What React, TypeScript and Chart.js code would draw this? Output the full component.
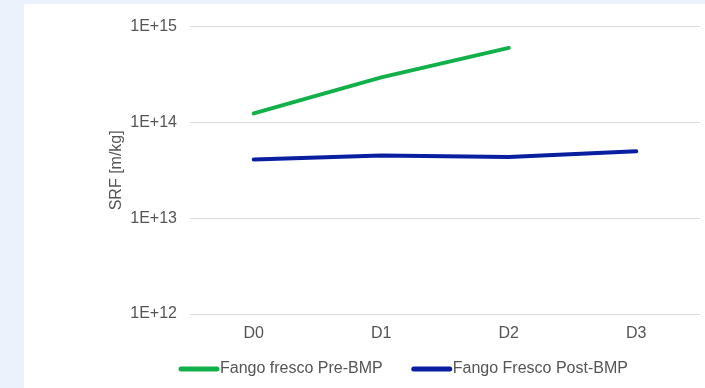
import React, { useEffect, useRef } from "react";
import { Chart, registerables } from "chart.js";

Chart.register(...registerables);

const categories = ["D0", "D1", "D2", "D3"];
const preBmpLabel = "Fango fresco Pre-BMP";
const postBmpLabel = "Fango Fresco Post-BMP";
const preBmp: (number | null)[] = [1.24e14, 2.95e14, 6.0e14, null];
const postBmp = [4.1e13, 4.5e13, 4.35e13, 5.0e13];
const yTicks = [1e12, 1e13, 1e14, 1e15];
const yTitle = "SRF [m/kg]";

const GREEN = "#12b04a";
const BLUE = "#0a1f9f";
const TEXT = "#555555";
const FONT = "'Liberation Sans', Arial, sans-serif";

const legendPlugin = {
  id: "customLegend",
  afterDraw(chart: any) {
    const ctx = chart.ctx;
    const items = [
      { label: preBmpLabel, color: GREEN },
      { label: postBmpLabel, color: BLUE },
    ];
    ctx.save();
    ctx.font = `16px ${FONT}`;
    ctx.textBaseline = "middle";
    ctx.textAlign = "left";
    let x = 157;
    const y = 365;
    for (const it of items) {
      ctx.strokeStyle = it.color;
      ctx.lineWidth = 5;
      ctx.lineCap = "round";
      ctx.beginPath();
      ctx.moveTo(x, y);
      ctx.lineTo(x + 36, y);
      ctx.stroke();
      ctx.fillStyle = TEXT;
      ctx.fillText(it.label, x + 39, y);
      x += 39 + ctx.measureText(it.label).width + 31;
    }
    ctx.restore();
  },
};

export default function App() {
  const ref = useRef<HTMLCanvasElement>(null);
  useEffect(() => {
    if (!ref.current) return;
    const chart = new Chart(ref.current, {
      type: "line",
      data: {
        labels: categories,
        datasets: [
          {
            label: preBmpLabel,
            data: preBmp,
            borderColor: GREEN,
            backgroundColor: GREEN,
            borderWidth: 4,
            borderCapStyle: "round",
            pointRadius: 0,
            tension: 0,
          },
          {
            label: postBmpLabel,
            data: postBmp,
            borderColor: BLUE,
            backgroundColor: BLUE,
            borderWidth: 4,
            borderCapStyle: "round",
            pointRadius: 0,
            tension: 0,
          },
        ],
      },
      options: {
        animation: false,
        responsive: false,
        maintainAspectRatio: false,
        layout: { padding: { left: 79, right: 5, top: 22, bottom: 40 } },
        plugins: { legend: { display: false }, tooltip: { enabled: false } },
        scales: {
          x: {
            offset: true,
            grid: { display: false },
            border: { display: false },
            ticks: {
              color: TEXT,
              font: { family: FONT, size: 16 },
              padding: 2,
              maxRotation: 0,
            },
            afterFit: (s: any) => {
              s.height = 34;
            },
          },
          y: {
            type: "logarithmic",
            min: 1e12,
            max: 1e15,
            afterBuildTicks: (s: any) => {
              s.ticks = yTicks.map((v) => ({ value: v }));
            },
            grid: { color: "#d9d9d9", lineWidth: 1, drawTicks: false },
            border: { display: false },
            ticks: {
              color: TEXT,
              font: { family: FONT, size: 16 },
              padding: 13,
              callback: (v: any) => "1E+" + Math.round(Math.log10(Number(v))),
            },
            title: {
              display: true,
              text: yTitle,
              color: TEXT,
              font: { family: FONT, size: 16 },
              padding: { top: 4, bottom: 4 },
            },
            afterFit: (s: any) => {
              s.width = 87;
            },
          },
        },
      },
      plugins: [legendPlugin],
    });
    return () => chart.destroy();
  }, []);
  return (
    <div
      style={{
        position: "fixed",
        left: 0,
        top: 0,
        width: 705,
        height: 388,
        background: "#ebf2fb",
      }}
    >
      <div
        style={{
          position: "absolute",
          left: 24,
          top: 4,
          width: 681,
          height: 384,
          background: "#ffffff",
        }}
      >
        <canvas ref={ref} width={681} height={384} style={{ display: "block" }} />
      </div>
    </div>
  );
}
